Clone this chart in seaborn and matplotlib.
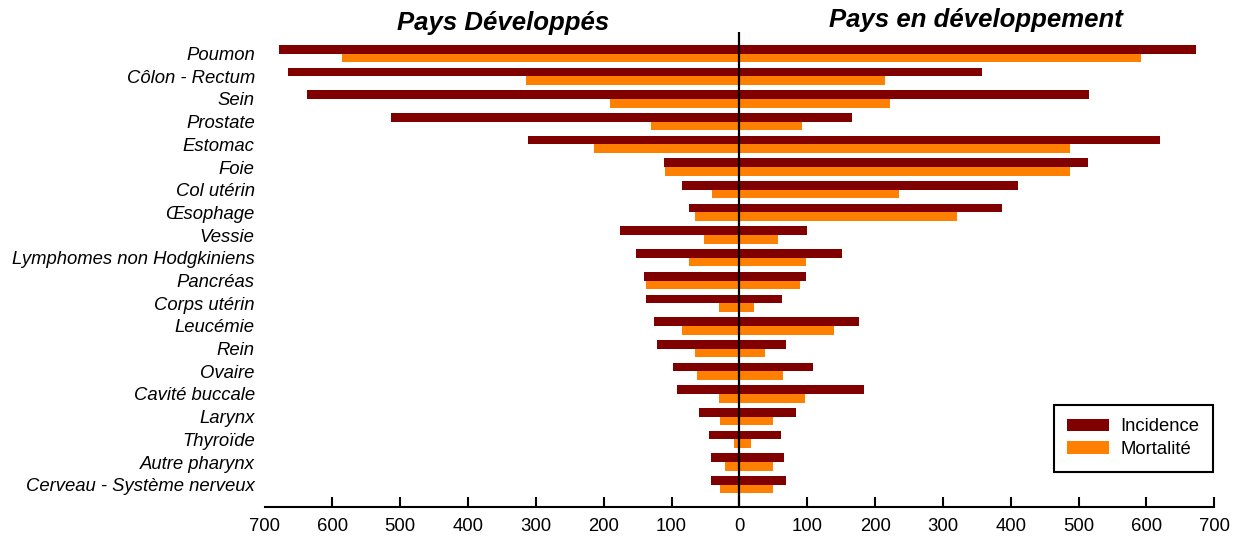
import matplotlib
matplotlib.use("Agg")
import matplotlib.pyplot as plt
import matplotlib.transforms as mtransforms
from matplotlib.ticker import FuncFormatter, FixedLocator
from matplotlib.patches import Patch
import seaborn as sns
import pandas as pd

cancers = ["Poumon", "Côlon - Rectum", "Sein", "Prostate", "Estomac", "Foie",
           "Col utérin", "Œsophage", "Vessie", "Lymphomes non Hodgkiniens",
           "Pancréas", "Corps utérin", "Leucémie", "Rein", "Ovaire",
           "Cavité buccale", "Larynx", "Thyroïde", "Autre pharynx",
           "Cerveau - Système nerveux"]

dev_incidence = [679, 666, 637, 514, 312, 111, 84, 75, 176, 152,
                 140, 137, 126, 121, 98, 92, 59, 45, 42, 42]
dev_mortalite = [586, 315, 191, 130, 214, 109, 41, 66, 52, 74,
                 137, 30, 85, 66, 63, 30, 29, 8, 21, 28]
enddev_incidence = [673, 357, 515, 166, 620, 514, 410, 387, 100, 151,
                    98, 63, 177, 69, 109, 184, 83, 61, 66, 68]
enddev_mortalite = [592, 215, 222, 92, 487, 488, 235, 321, 57, 98,
                    89, 22, 139, 37, 64, 97, 50, 17, 49, 49]

measures = ["Incidence", "Mortalité"]
colors = ["#800000", "#FF8000"]
titles = ["Pays Développés", "Pays en développement"]
xticks = list(range(-700, 701, 100))

left = pd.DataFrame({
    "cancer": cancers * 2,
    "measure": ["Incidence"] * len(cancers) + ["Mortalité"] * len(cancers),
    "value": [-v for v in dev_incidence] + [-v for v in dev_mortalite],
})
right = pd.DataFrame({
    "cancer": cancers * 2,
    "measure": ["Incidence"] * len(cancers) + ["Mortalité"] * len(cancers),
    "value": enddev_incidence + enddev_mortalite,
})

sns.set_style("white")
plt.rcParams["font.family"] = ["Liberation Sans", "DejaVu Sans"]
plt.rcParams["text.color"] = "black"
plt.rcParams["xtick.color"] = "black"
plt.rcParams["ytick.color"] = "black"
plt.rcParams["axes.labelcolor"] = "black"

FS = 13.3

fig = plt.figure(figsize=(12.38, 5.39), dpi=100)
ax = fig.add_axes([264.5 / 1238, 1 - 507 / 539, (1214.3 - 264.5) / 1238, (507 - 32) / 539])

for df in (left, right):
    sns.barplot(data=df, x="value", y="cancer", hue="measure", hue_order=measures,
                order=cancers, palette=colors, saturation=1, orient="h", width=0.76,
                dodge=True, errorbar=None, linewidth=0, ax=ax, legend=False)

ax.set_xlim(-700, 700)
ax.set_ylim(19.98, -0.95)
ax.axvline(0, color="black", lw=1.6, zorder=5)

for s in ("top", "right", "left"):
    ax.spines[s].set_visible(False)
ax.spines["bottom"].set_color("black")
ax.spines["bottom"].set_linewidth(1.5)

ax.xaxis.set_major_locator(FixedLocator(xticks))
ax.xaxis.set_major_formatter(FuncFormatter(lambda v, p: f"{abs(int(round(v)))}"))
ax.tick_params(axis="x", direction="in", length=7.5, width=1.5, color="black",
               labelsize=FS, labelcolor="black", pad=8, bottom=True)
ax.tick_params(axis="y", length=0, pad=7, labelsize=FS, labelcolor="black")
for lab in ax.get_yticklabels():
    lab.set_fontstyle("italic")
ax.set_xlabel("")
ax.set_ylabel("")
ax.xaxis.get_major_ticks()[0].tick1line.set_visible(False)

trans = mtransforms.blended_transform_factory(ax.transData, fig.transFigure)
ax.text(-348, 1 - 30 / 539, titles[0], transform=trans, ha="center", va="baseline",
        fontsize=18.5, fontweight="bold", fontstyle="italic", color="black")
ax.text(348, 1 - 27 / 539, titles[1], transform=trans, ha="center", va="baseline",
        fontsize=18.5, fontweight="bold", fontstyle="italic", color="black")

handles = [Patch(facecolor=c, edgecolor="none") for c in colors]
leg = ax.legend(handles, measures, loc="lower right", bbox_to_anchor=(0.999, 0.074),
                borderaxespad=0, fontsize=FS, handlelength=2.27, handleheight=0.7,
                handletextpad=0.6, labelspacing=0.3, borderpad=0.75,
                fancybox=False, framealpha=1, edgecolor="black")
leg.get_frame().set_linewidth(1.5)
for t in leg.get_texts():
    t.set_color("black")

fig.savefig("out.png", dpi=100)
